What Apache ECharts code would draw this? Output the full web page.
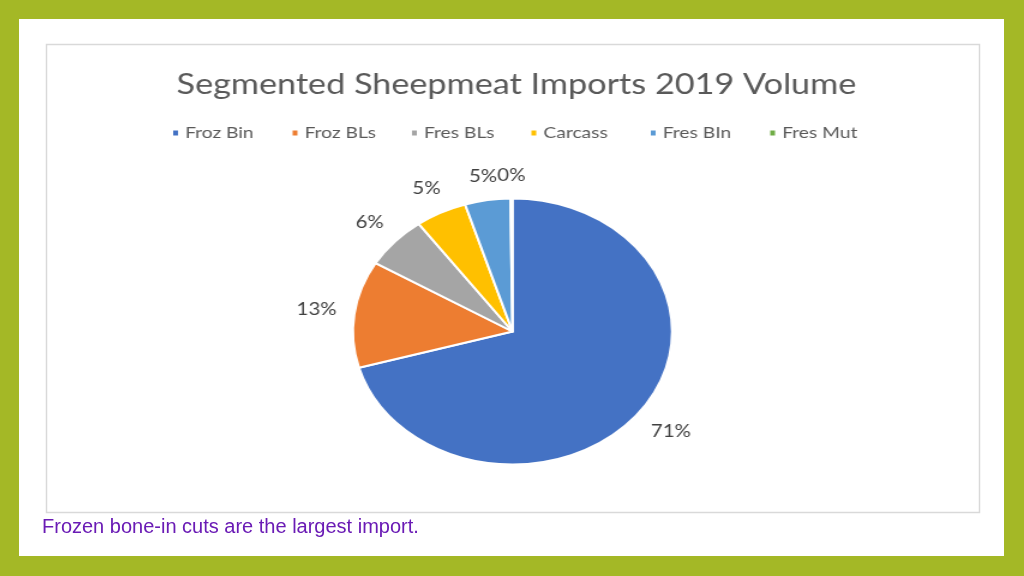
<!DOCTYPE html>
<html>
<head>
<meta charset="utf-8">
<script src="https://cdn.jsdelivr.net/npm/echarts@6/dist/echarts.min.js"></script>
<style>
  html, body { margin: 0; padding: 0; }
  body { width: 1024px; height: 576px; position: relative; overflow: hidden; }
  #bg { position: absolute; left: 0; top: 0; width: 1024px; height: 576px; }
  #pie { position: absolute; left: 46px; top: 44px; width: 778px; height: 468px;
         transform: scaleX(1.2); transform-origin: 0 0; }
</style>
</head>
<body>
<div id="bg"></div>
<div id="pie"></div>
<script>
// ---- data ----
const titleText = 'Segmented Sheepmeat Imports 2019 Volume';
const categories = ['Froz Bin', 'Froz BLs', 'Fres BLs', 'Carcass', 'Fres BIn', 'Fres Mut'];
const shares = [70.6, 13.0, 6.4, 5.2, 4.6, 0.2];
const colors = ['#4472C4', '#ED7D31', '#A5A5A5', '#FFC000', '#5B9BD5', '#70AD47'];
const caption = 'Frozen bone-in cuts are the largest import.';

// ---- background / frame / caption ----
const bg = echarts.init(document.getElementById('bg'), null, { renderer: 'canvas' });
bg.setOption({
  animation: false,
  graphic: [
    { type: 'rect', shape: { x: 0, y: 0, width: 1024, height: 576 }, style: { fill: '#A4B826' }, silent: true },
    { type: 'rect', shape: { x: 19, y: 19, width: 985, height: 537 }, style: { fill: '#ffffff' }, silent: true },
    { type: 'rect', shape: { x: 46.5, y: 44.5, width: 933, height: 468 }, style: { fill: '#ffffff', stroke: '#d9d9d9', lineWidth: 1.5 }, silent: true },
    { type: 'text', x: 42, y: 527, style: { text: caption, fill: '#6a1bb5', font: '20px "Liberation Sans", Arial, sans-serif', textVerticalAlign: 'middle', textAlign: 'left' }, silent: true }
  ]
});

// ---- stretched chart (title, legend, pie) ----
const CX = 388.75, CY = 287.5, R = 133, GAP = 14;
const LEGEND_LEFT = 104, LEGEND_PITCH = 99.5;
const total = shares.reduce((a, b) => a + b, 0);
const midAngles = [];   // radians, measured clockwise from 12 o'clock
{
  let acc = 0;
  shares.forEach(v => { midAngles.push((acc + v / 2) / total * 2 * Math.PI); acc += v; });
}

const chart = echarts.init(document.getElementById('pie'), null, { renderer: 'canvas' });
chart.setOption({
  animation: false,
  color: colors,
  title: {
    text: titleText,
    left: 387,
    textAlign: 'center',
    top: 21,
    textStyle: { fontFamily: 'Lato', fontSize: 28.5, fontWeight: 'normal', color: '#595959' }
  },
  legend: categories.map((c, i) => ({
    data: [c],
    left: LEGEND_LEFT + i * LEGEND_PITCH,
    top: 81,
    padding: 0,
    icon: 'rect',
    itemWidth: 6,
    itemHeight: 7,
    textStyle: { fontFamily: 'Lato', fontSize: 16, color: '#595959' }
  })),
  series: [{
    type: 'pie',
    center: [CX, CY],
    radius: R,
    startAngle: 90,
    clockwise: true,
    avoidLabelOverlap: false,
    itemStyle: { borderColor: '#ffffff', borderWidth: 2 },
    label: {
      show: true,
      position: 'outside',
      fontFamily: 'Lato',
      fontSize: 17,
      color: '#404040',
      formatter: p => Math.round(p.percent) + '%'
    },
    labelLine: { show: false, length: 15, length2: 0 },
    labelLayout: function (p) {
      const a = midAngles[p.dataIndex];
      const ux = Math.sin(a), uy = -Math.cos(a);
      const w = p.labelRect.width, h = p.labelRect.height;
      const half = Math.abs(ux) * w / 2 + Math.abs(uy) * h / 2;
      const d = R + GAP + half;
      return { x: CX + ux * d, y: CY + uy * d, align: 'center', verticalAlign: 'middle' };
    },
    emphasis: { disabled: true },
    data: categories.map((c, i) => ({ name: c, value: shares[i] }))
  }]
});
</script>
</body>
</html>
